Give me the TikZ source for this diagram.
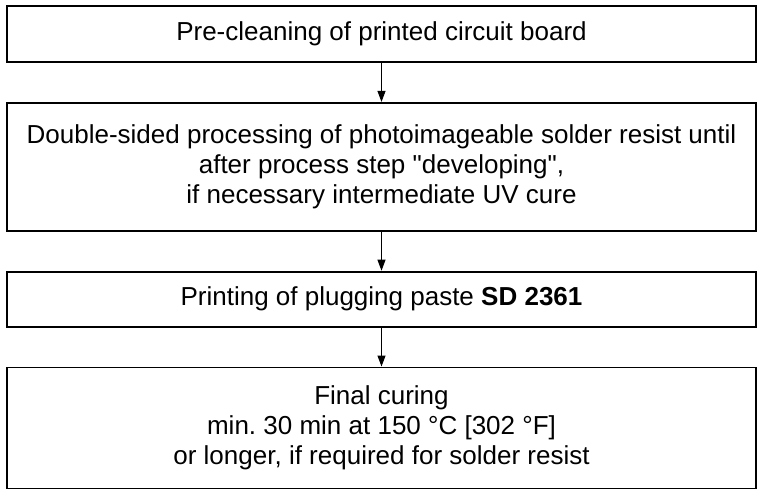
\documentclass[tikz,border=0pt]{standalone}
\usepackage{fontspec}
\setmainfont{Liberation Sans}
\usetikzlibrary{arrows.meta,positioning}
\frenchspacing

\begin{document}
\begin{tikzpicture}[x=1pt,y=1pt,node distance=39pt,
    stepbox/.style={draw, line width=1.8pt, minimum width=748.6pt, align=center,
        inner sep=0pt, font=\fontsize{26}{30}\selectfont},
    flow/.style={-{Triangle[length=11pt,width=8pt]}, line width=1pt}]
    % Frame
    \useasboundingbox (0,0) rectangle (763,-488);

    % Process steps
    \node[stepbox, minimum height=56pt] (clean) at (381.5,-34) {Pre-cleaning of printed circuit board};
    \node[stepbox, minimum height=128pt, below=of clean] (resist)
        {Double-sided processing of photoimageable solder resist until\\
         after process step \textquotedbl developing\textquotedbl,\\
         if necessary intermediate UV cure};
    \node[stepbox, minimum height=55pt, below=of resist] (paste) {Printing of plugging paste \textbf{SD 2361}};
    \node[stepbox, minimum height=121pt, below=of paste] (cure)
        {Final curing\\
         min. 30 min at 150 °C [302 °F]\\
         or longer, if required for solder resist};

    % Arrows
    \draw[flow] (clean) -- (resist);
    \draw[flow] (resist) -- (paste);
    \draw[flow] (paste) -- (cure);
\end{tikzpicture}
\end{document}
